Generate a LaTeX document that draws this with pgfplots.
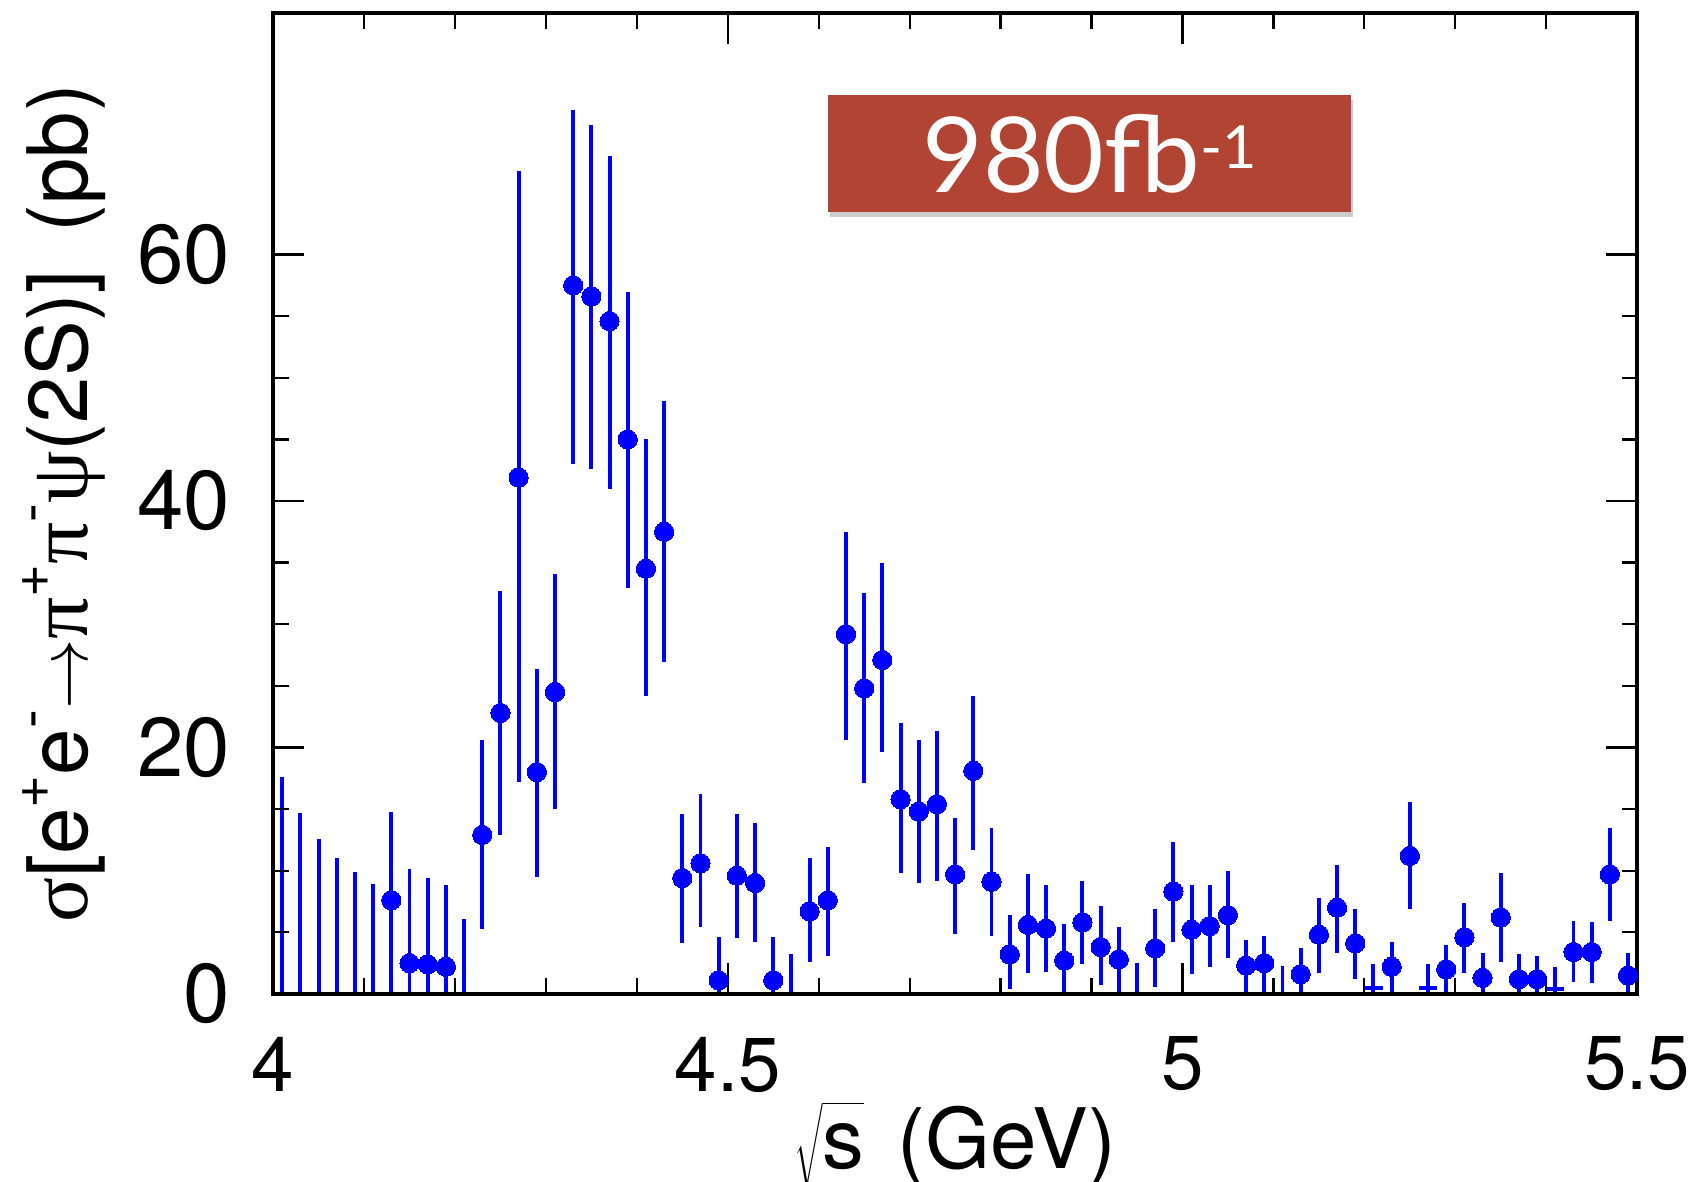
\documentclass[border=0pt]{standalone}
\usepackage{fontspec}
\setmainfont{TeX Gyre Heros}
\newfontfamily\greek{Liberation Serif}
\newfontfamily\boxfont{Lato}
\usepackage{pgfplots}
\usepackage{pgfplotstable}
\pgfplotsset{compat=1.18}
\usetikzlibrary{shadows}
\definecolor{boxred}{RGB}{177,68,50}
\definecolor{pblue}{RGB}{0,0,255}

% points with markers: x, value, error plus, error minus
\pgfplotstableread{
x y ep em
4.13 7.6 7.2 7.6
4.15 2.5 7.6 7.6
4.17 2.4 7.0 7.0
4.19 2.2 6.6 6.6
4.23 12.9 7.7 7.6
4.25 22.8 9.9 9.9
4.27 41.9 24.9 24.7
4.29 18.0 8.4 8.5
4.31 24.5 9.6 9.5
4.33 57.5 14.2 14.5
4.35 56.6 13.9 14.0
4.37 54.6 13.4 13.6
4.39 45.0 12.0 12.1
4.41 34.5 10.5 10.3
4.43 37.5 10.6 10.6
4.45 9.4 5.2 5.3
4.47 10.6 5.6 5.2
4.49 1.1 3.5 3.5
4.51 9.6 5.0 5.1
4.53 9.0 4.9 4.8
4.55 1.1 3.5 3.5
4.59 6.7 4.3 4.1
4.61 7.6 4.3 4.5
4.63 29.2 8.3 8.6
4.65 24.8 7.7 7.7
4.67 27.1 7.9 7.5
4.69 15.8 6.2 6.0
4.71 14.8 5.8 5.8
4.73 15.4 5.9 6.2
4.75 9.7 4.6 4.8
4.77 18.1 6.1 6.4
4.79 9.1 4.4 4.4
4.81 3.2 3.2 2.8
4.83 5.6 4.1 3.9
4.85 5.3 3.5 3.5
4.87 2.7 3.0 3.0
4.89 5.8 3.4 3.4
4.91 3.8 3.3 3.1
4.93 2.8 2.6 2.8
4.97 3.7 3.2 3.1
4.99 8.3 4.0 4.1
5.01 5.2 3.6 3.6
5.03 5.5 3.3 3.3
5.05 6.4 3.6 3.5
5.07 2.3 2.1 2.3
5.09 2.5 2.2 2.5
5.13 1.6 2.1 1.6
5.15 4.8 3.0 3.1
5.17 7.0 3.5 3.7
5.19 4.1 2.8 2.9
5.23 2.2 2.0 2.2
5.25 11.2 4.4 4.3
5.29 2.0 2.0 2.0
5.31 4.6 2.8 2.9
5.33 1.3 2.0 1.3
5.35 6.2 3.6 3.6
5.37 1.2 2.0 1.2
5.39 1.2 1.9 1.2
5.43 3.4 2.5 2.4
5.45 3.4 2.4 2.5
5.47 9.7 3.8 3.8
5.49 1.5 1.8 1.5
}\datapts

% bins without a visible marker
\pgfplotstableread{
x y ep em
4.01 0 17.6 0
4.03 0 14.7 0
4.05 0 12.6 0
4.07 0 11.0 0
4.09 0 9.9 0
4.11 0 8.9 0
4.21 0 6.1 0
4.57 0 3.2 0
4.95 0 2.5 0
5.11 0 2.3 0
5.21 0.5 1.9 0.5
5.27 0.5 1.9 0.5
5.41 0.4 1.8 0.4
}\databars

\newcommand\sps[1]{\raisebox{13.5pt}{\fontsize{20}{20}\selectfont #1}}

\begin{document}
\begin{tikzpicture}
\useasboundingbox (-96.5pt,-66.4pt) rectangle (503.5pt,351.2pt);
\begin{axis}[
  scale only axis, width=482pt, height=346.6pt,
  xmin=4, xmax=5.5, ymin=0, ymax=79.6,
  xtick={4,4.5,5,5.5}, ytick={0,20,40,60},
  minor x tick num=4, minor y tick num=3,
  tick align=inside, tick pos=both,
  major tick length=11pt, minor tick length=5.5pt,
  tick style={line width=0.8pt, black},
  axis line style={line width=1.4pt},
  axis on top,
  /pgf/number format/assume math mode=true,
  xticklabel style={font=\fontsize{27}{28}\selectfont, inner sep=0pt, yshift=-15pt},
  yticklabel style={font=\fontsize{29.5}{30}\selectfont, inner sep=0pt, xshift=-15pt},
  xlabel={$\sqrt{\hbox{s}\vphantom{\hbox{(}}}$\hspace{0.4em}(GeV)},
  ylabel={{\greek σ}[e\sps{+}e\sps{-}$\rightarrow${\greek π}\sps{+}{\greek π}\sps{-}{\greek ψ}(2S)]\hspace{0.45em}(pb)},
  xlabel style={font=\fontsize{29.5}{30}\selectfont, at={(axis description cs:0.5,-0.178)}, anchor=base, inner sep=0pt},
  ylabel style={font=\fontsize{29.5}{30}\selectfont, at={(axis description cs:-0.1357,0.5)}, anchor=base, inner sep=0pt},
]
\addplot[draw=none, mark=none,
  error bars/.cd, y dir=both, y explicit, x dir=both, x fixed=0.01,
  error mark=none, error bar style={draw=pblue, line width=1.4pt}]
  table[x=x, y=y, y error plus=ep, y error minus=em]{\databars};
\addplot[pblue, only marks, mark=*, mark size=3.4pt,
  mark options={fill=pblue, draw=pblue, line width=0pt},
  error bars/.cd, y dir=both, y explicit, x dir=both, x fixed=0.01,
  error mark=none, error bar style={draw=pblue, line width=1.4pt}]
  table[x=x, y=y, y error plus=ep, y error minus=em]{\datapts};
\node[fill=boxred, text=white, inner sep=0pt, minimum width=185pt, minimum height=41.3pt,
  drop shadow={opacity=0.4, shadow xshift=0.6pt, shadow yshift=-1.8pt},
  font=\boxfont\fontsize{37}{38}\selectfont] at (axis cs:4.898,68.2)
  {980fb\raisebox{8.5pt}{\fontsize{21}{22}\selectfont -1}};
\end{axis}
\end{tikzpicture}
\end{document}
